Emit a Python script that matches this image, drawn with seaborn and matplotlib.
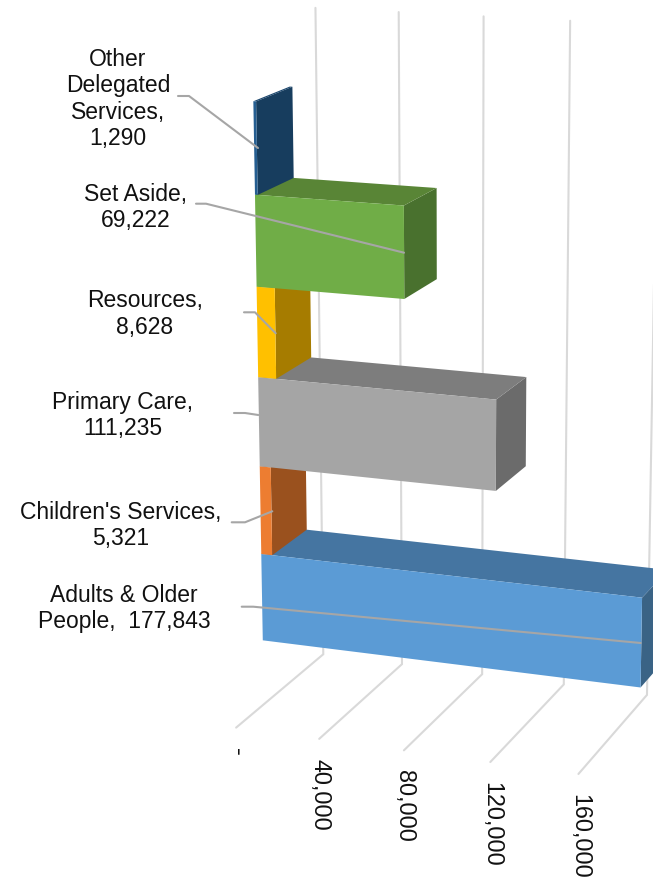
import numpy as np
import matplotlib
matplotlib.use("Agg")
import matplotlib.pyplot as plt
import seaborn as sns

# Budget lines, bottom row first (values in pounds thousand)
categories = ["Adults & Older People", "Children's Services", "Primary Care",
              "Resources", "Set Aside", "Other Delegated Services"]
values = [177843, 5321, 111235, 8628, 69222, 1290]
axis_ticks = [0, 40000, 80000, 120000, 160000]
axis_tick_labels = ["-", "40,000", "80,000", "120,000", "160,000"]
label_lines = ["Adults & Older\nPeople,  177,843", "Children's Services,\n5,321",
               "Primary Care,\n111,235", "Resources,\n8,628", "Set Aside,\n69,222",
               "Other\nDelegated\nServices,\n1,290"]

front_colors = ["#5B9BD5", "#ED7D31", "#A5A5A5", "#FFC000", "#70AD47", "#255E91"]
top_colors = ["#4575A1", "#B35E25", "#7D7D7D", "#C19100", "#598536", "#1C476E"]
side_colors = ["#3A6385", "#9A511E", "#6B6B6B", "#A67C00", "#49712E", "#173D5E"]

# Where each label's text sits and how its leader line runs (figure pixels)
label_xy = [(124, 608.5), (121, 525.5), (122.5, 415.5), (145, 314), (136, 207.5), (118, 99)]
leaders = [
    [(241.7, 607.7), (253.3, 607.7), (640.7, 644)],
    [(231.7, 523.3), (245, 523.3), (272.3, 512.3)],
    [(234, 414), (245, 414), (258.3, 416)],
    [(244, 313.3), (255, 313.3), (275.7, 334.3)],
    [(196, 204.7), (206, 204.7), (404, 253.7)],
    [(178, 97), (189, 97), (258, 149)],
]

# Perspective camera: (value in thousands, category row, depth) -> pixels
CAMERA = np.array([[1.972126, -3.527334, 42.0790738, 262.7850628],
                   [0.1015332, -90.6332755, -11.7685709, 641.3308156],
                   [-0.0002376, -0.0077058, 0.0255015, 1.0]])
FLOOR, CEILING = -0.75, 6.75
DEPTH_FRONT, DEPTH_BACK = -0.775, 1.765


def project(value, row, depth):
    h = CAMERA @ np.array([value / 1000.0, row, depth, 1.0])
    return h[0] / h[2], h[1] / h[2]


sns.set_theme(style="white")
plt.rcParams["font.family"] = ["Liberation Sans", "DejaVu Sans"]
TEXT = "#111111"

fig = plt.figure(figsize=(6.53, 8.79), dpi=100, facecolor="white")
ax = fig.add_axes([0, 0, 1, 1])
ax.set_xlim(0, 653)
ax.set_ylim(879, 0)
ax.axis("off")

# Gridlines run along the floor and then up the back wall
for tick, tick_label in zip(axis_ticks, axis_tick_labels):
    path = [project(tick, FLOOR, DEPTH_FRONT), project(tick, FLOOR, DEPTH_BACK),
            project(tick, CEILING, DEPTH_BACK)]
    ax.plot(*zip(*path), color="#D9D9D9", lw=1.5, solid_joinstyle="miter", zorder=1)
    end_x, end_y = path[0]
    ax.text(end_x + 1, end_y + 19, tick_label, rotation=-90, ha="center", va="top",
            fontsize=16.8, color=TEXT, zorder=5)

# Bars are painted bottom row upward so each one sits on the one beneath
for row, value in enumerate(values):
    z = 10 + row
    side = [project(value, row, 0), project(value, row + 1, 0),
            project(value, row + 1, 1), project(value, row, 1)]
    top = [project(0, row + 1, 0), project(value, row + 1, 0),
           project(value, row + 1, 1), project(0, row + 1, 1)]
    front = [project(0, row, 0), project(value, row, 0),
             project(value, row + 1, 0), project(0, row + 1, 0)]
    ax.fill(*zip(*side), color=side_colors[row], lw=0, zorder=z)
    ax.fill(*zip(*top), color=top_colors[row], lw=0, zorder=z)
    ax.fill(*zip(*front), color=front_colors[row], lw=0, zorder=z)

for text, (x, y), leader in zip(label_lines, label_xy, leaders):
    ax.plot(*zip(*leader), color="#A6A6A6", lw=1.5, zorder=30)
    ax.text(x, y, text, ha="center", va="center", fontsize=16.5, color=TEXT,
            linespacing=1.2, zorder=31)

fig.savefig("out.png", dpi=100)
